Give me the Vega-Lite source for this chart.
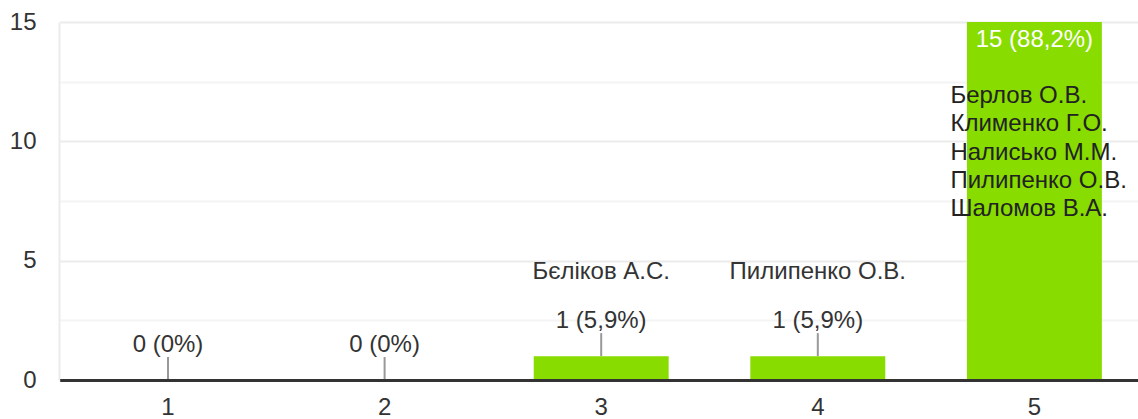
{
  "$schema": "https://vega.github.io/schema/vega-lite/v6.json",
  "width": 1079,
  "height": 358,
  "padding": {"left": 59, "top": 22, "right": 0, "bottom": 39},
  "autosize": {"type": "none"},
  "background": "white",
  "config": {
    "view": {"stroke": null},
    "font": "Liberation Sans",
    "text": {"font": "Liberation Sans", "fontSize": 24, "color": "#333"}
  },
  "data": {
    "values": [
      {"cat": "1", "count": 0, "label": "0 (0%)", "names": ""},
      {"cat": "2", "count": 0, "label": "0 (0%)", "names": ""},
      {"cat": "3", "count": 1, "label": "1 (5,9%)", "names": "Бєліков А.С."},
      {"cat": "4", "count": 1, "label": "1 (5,9%)", "names": "Пилипенко О.В."},
      {"cat": "5", "count": 15, "label": "15 (88,2%)", "names": "Берлов О.В.\nКлименко Г.О.\nНалисько М.М.\nПилипенко О.В.\nШаломов В.А."}
    ]
  },
  "encoding": {
    "x": {
      "field": "cat", "type": "ordinal",
      "scale": {"paddingInner": 0.377, "paddingOuter": 0.1885, "range": [0.7, 1083.7]},
      "axis": {
        "title": null, "labelAngle": 0, "ticks": false,
        "domainColor": "#333", "domainWidth": 3, "zindex": 1,
        "labelFontSize": 24, "labelColor": "#333", "labelPadding": 15,
        "labelFont": "Liberation Sans"
      }
    },
    "y": {
      "field": "count", "type": "quantitative",
      "scale": {"domain": [0, 15], "nice": false},
      "axis": {
        "title": null, "values": [0, 2.5, 5, 7.5, 10, 12.5, 15],
        "labelExpr": "datum.value % 5 === 0 ? datum.label : ''",
        "ticks": false, "domainColor": "#ebebeb", "domainWidth": 2,
        "grid": true, "gridWidth": 2,
        "gridColor": {"condition": {"test": "datum.value % 5 === 0", "value": "#ebebeb"}, "value": "#f4f4f4"},
        "labelFontSize": 24, "labelColor": "#333", "labelPadding": 23,
        "labelFont": "Liberation Sans"
      }
    }
  },
  "layer": [
    {"mark": {"type": "bar", "color": "#88dc00"}},
    {
      "transform": [{"filter": "datum.count < 15"}],
      "mark": {"type": "rule", "color": "#999", "strokeWidth": 2, "y2Offset": -23},
      "encoding": {"y2": {"field": "count"}}
    },
    {
      "transform": [{"filter": "datum.count < 15"}],
      "mark": {"type": "text", "baseline": "middle", "dy": -35},
      "encoding": {"text": {"field": "label"}}
    },
    {
      "transform": [{"filter": "datum.count >= 15"}],
      "mark": {"type": "text", "baseline": "middle", "dy": 18, "color": "white"},
      "encoding": {"text": {"field": "label"}}
    },
    {
      "transform": [{"filter": "datum.count < 15 && datum.names !== ''"}],
      "mark": {"type": "text", "baseline": "middle", "dy": -84},
      "encoding": {"text": {"field": "names"}}
    },
    {
      "transform": [{"filter": "datum.count >= 15"}],
      "mark": {"type": "text", "baseline": "top", "align": "left", "dx": -84, "dy": 62, "lineBreak": "\n", "lineHeight": 28.3, "color": "#222"},
      "encoding": {"text": {"field": "names"}}
    }
  ]
}
